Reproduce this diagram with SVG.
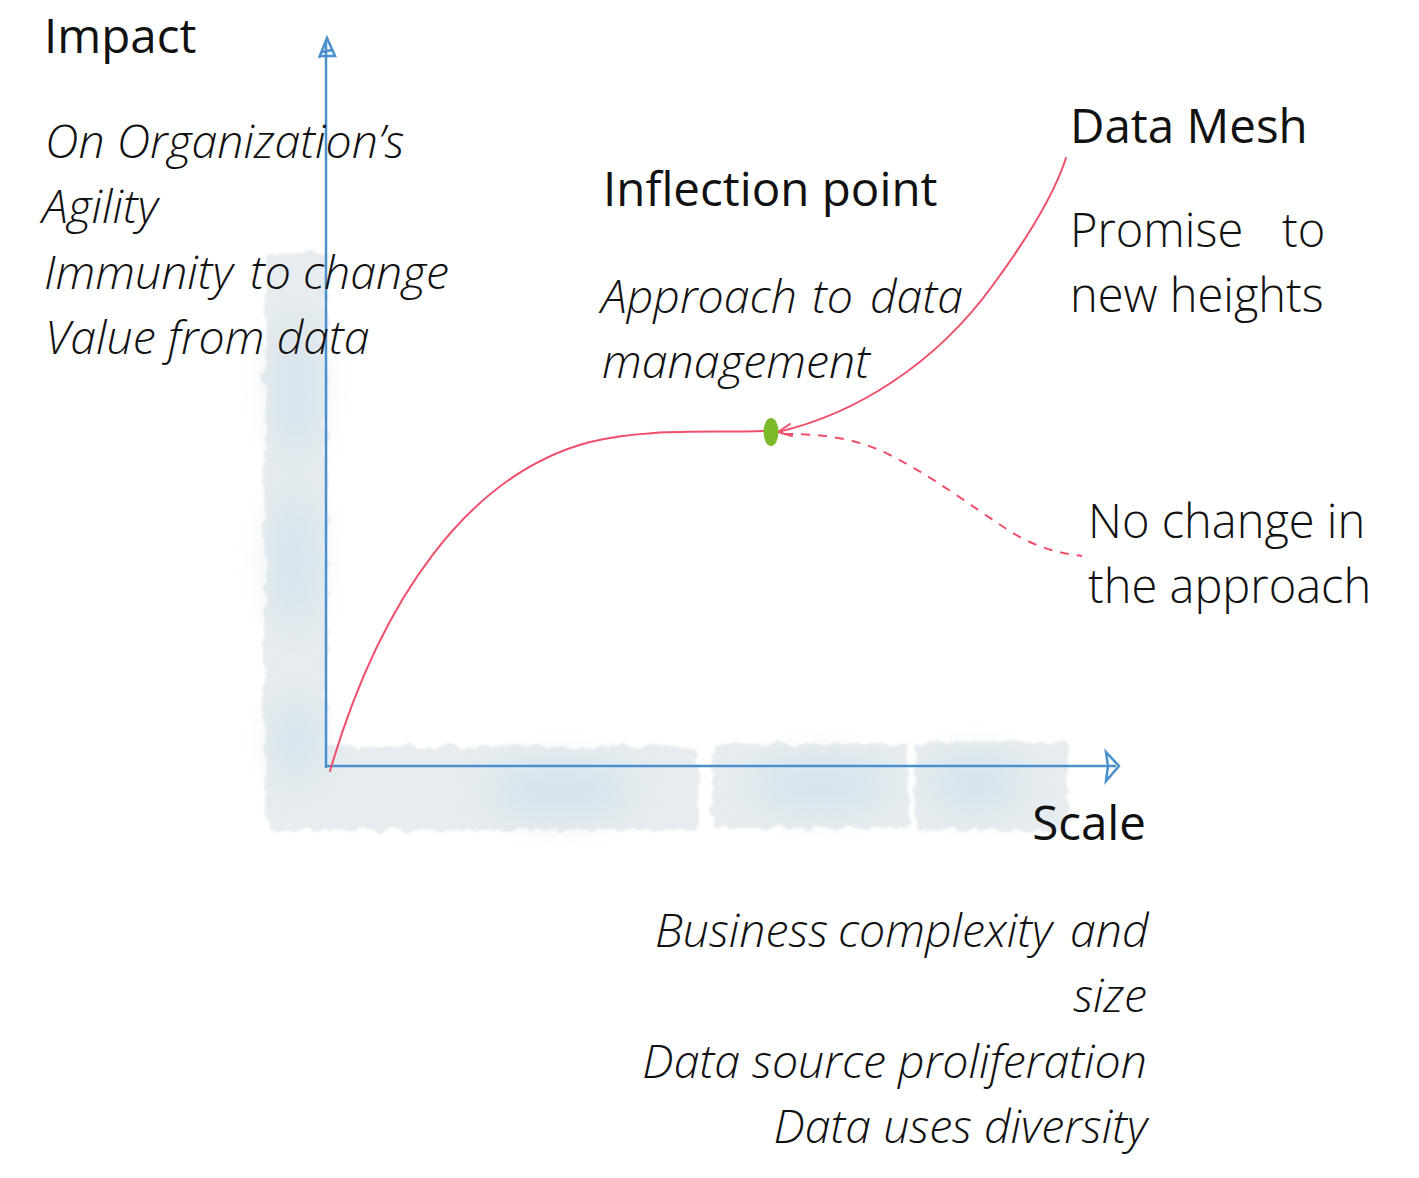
<svg xmlns="http://www.w3.org/2000/svg" width="1419" height="1178" viewBox="0 0 1419 1178">
<style>
.reg{font-family:"Open Sans","Noto Sans","Liberation Sans",sans-serif;font-size:47.5px;font-weight:400;fill:#111}
.lt{font-family:"Open Sans","Noto Sans","Liberation Sans",sans-serif;font-size:47px;font-weight:300;fill:#111}
.it{font-family:"Open Sans","Noto Sans","Liberation Sans",sans-serif;font-size:46.5px;font-weight:300;font-style:italic;fill:#111}
.axis{stroke:#4a90cc;stroke-width:2.5;fill:none}
.curve{stroke:#ef4f6b;stroke-width:2;fill:none;stroke-linecap:round}
.dash{stroke:#ef4f6b;stroke-width:2;fill:none;stroke-dasharray:9 8}
</style>
<defs>
<filter id="wash" x="-10%" y="-10%" width="120%" height="120%">
<feTurbulence type="fractalNoise" baseFrequency="0.07" numOctaves="3" seed="4" result="n"/>
<feDisplacementMap in="SourceGraphic" in2="n" scale="12" xChannelSelector="R" yChannelSelector="G"/>
<feGaussianBlur stdDeviation="1"/>
</filter>
<filter id="soft" x="-50%" y="-50%" width="200%" height="200%">
<feGaussianBlur stdDeviation="18"/>
</filter>
</defs>
<rect width="1419" height="1178" fill="#fff"/>
<g id="wash-bg">
<g filter="url(#wash)" fill="#e6ecef">
<rect x="265" y="252" width="62" height="570" rx="8"/>
<rect x="268" y="746" width="430" height="84" rx="6"/>
<rect x="712" y="744" width="196" height="84" rx="6"/>
<rect x="915" y="742" width="152" height="88" rx="6"/>
</g>
<g filter="url(#soft)" fill="#c8dbe9" opacity="0.55">
<ellipse cx="296" cy="390" rx="22" ry="70"/>
<ellipse cx="294" cy="560" rx="22" ry="70"/>
<ellipse cx="296" cy="740" rx="22" ry="40"/>
<ellipse cx="560" cy="790" rx="70" ry="28"/>
<ellipse cx="820" cy="785" rx="70" ry="25"/>
<ellipse cx="975" cy="782" rx="45" ry="28"/>
</g>
</g>
<g id="axes">
<path class="axis" d="M326,768 L326,42"/>
<path class="axis" d="M319,58 L327,38 L335,56 L320,56 M322,52 L332,50"/>
<path class="axis" d="M326,766 L1116,766"/>
<path class="axis" d="M1106,752 L1119,766 L1106,781 L1108,766 Z"/>
</g>
<g id="connectors">
<path class="curve" d="M330,771 C380,600 468,474 590,442 C650,428 705,433 765,431"/>
<path class="curve" d="M778,432 C855,414 935,365 993,285 C1032,232 1055,192 1066,158"/>
<path class="curve" d="M778,432 L790,424 M778,432 L792,436"/>
<path class="dash" d="M784,434 C830,434 860,440 890,455 C930,475 970,505 1005,528 C1030,545 1055,553 1082,556"/>
</g>
<g id="inflection-dot">
<ellipse cx="771" cy="432" rx="7.5" ry="14" fill="#7cba2b"/>
</g>
<g id="impact-label">
<text class="reg" x="44" y="53">Impact</text>
<text class="it" x="45" y="158">On Organization’s</text>
<text class="it" x="42" y="223">Agility</text>
<text class="it" y="289"><tspan x="44">Immunity</tspan><tspan x="250">to</tspan><tspan x="303">change</tspan></text>
<text class="it" x="45" y="354">Value from data</text>
</g>
<g id="inflection-label">
<text class="reg" x="603" y="206">Inflection point</text>
<text class="it" y="313"><tspan x="601">Approach</tspan><tspan x="812">to</tspan><tspan x="870">data</tspan></text>
<text class="it" x="602" y="378">management</text>
</g>
<g id="datamesh-label">
<text class="reg" x="1070" y="143">Data Mesh</text>
<text class="lt" y="247"><tspan x="1070">Promise</tspan><tspan x="1282">to</tspan></text>
<text class="lt" x="1070" y="312">new heights</text>
</g>
<g id="nochange-label">
<text class="lt" x="1088" y="538">No change in</text>
<text class="lt" x="1088" y="603">the approach</text>
</g>
<g id="scale-label">
<text class="reg" x="1146" y="840" text-anchor="end">Scale</text>
<text class="it" y="947"><tspan x="655">Business</tspan><tspan x="838">complexity</tspan><tspan x="1070">and</tspan></text>
<text class="it" x="1147" y="1012" text-anchor="end">size</text>
<text class="it" x="1147" y="1078" text-anchor="end">Data source proliferation</text>
<text class="it" x="1147" y="1143" text-anchor="end">Data uses diversity</text>
</g>
</svg>
